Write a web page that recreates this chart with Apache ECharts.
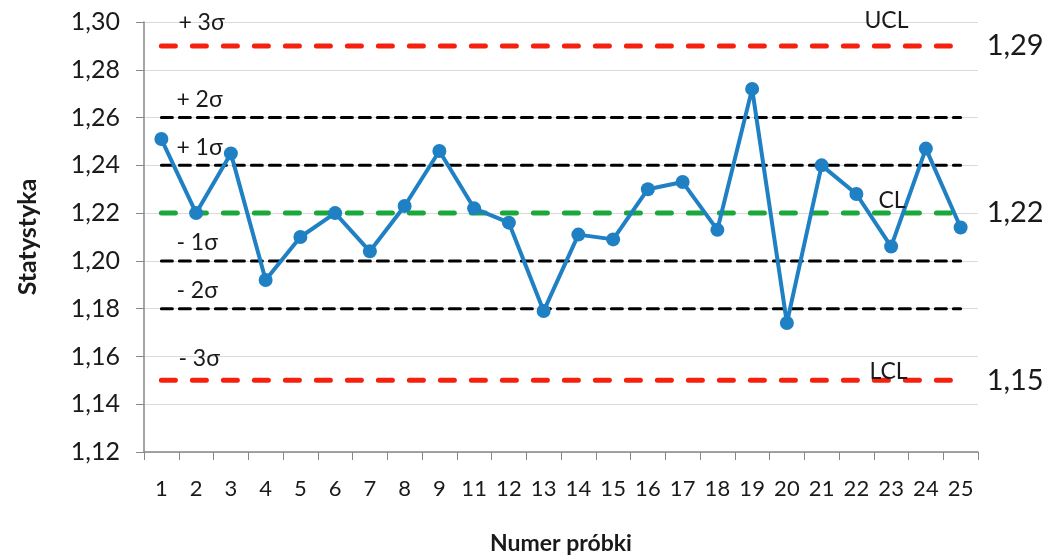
<!DOCTYPE html>
<html>
<head>
<meta charset="utf-8">
<script src="https://cdn.jsdelivr.net/npm/echarts@6/dist/echarts.min.js"></script>
<style>html,body{margin:0;padding:0;background:#fff}#c{width:1055px;height:558px}</style>
</head>
<body>
<div id="c"></div>
<script>
const categories = ['1','2','3','4','5','6','7','8','9','11','12','13','14','15','16','17','18','19','20','21','22','23','24','25'];
const values = [1.251,1.220,1.245,1.192,1.210,1.220,1.204,1.223,1.246,1.222,1.216,1.179,1.211,1.209,1.230,1.233,1.213,1.272,1.174,1.240,1.228,1.206,1.247,1.214];
const UCL = 1.29, CL = 1.22, LCL = 1.15;
const sigmaLevels = [1.26, 1.24, 1.20, 1.18];
const sigmaNames = ['+ 2σ','+ 1σ','- 1σ','- 2σ'];
const yTicks = {min:1.12, max:1.30, interval:0.02};

const FONT = 'Lato, "Open Sans", sans-serif';
const TXT = '#1a1a1a';
const fmt = v => v.toFixed(2).replace('.', ',');
const flat = v => categories.map(() => v);

function limitSeries(v, color, width, dash, showEnd) {
  return {
    type:'line', data: flat(v), symbol:'none', silent:true, z:1,
    lineStyle:{color, width, type:dash, cap:'round'},
    endLabel: showEnd ? {show:true, formatter:()=>fmt(v), fontSize:29, color:TXT, fontFamily:FONT, distance:26} : {show:false},
    animation:false
  };
}

const chart = echarts.init(document.getElementById('c'), null, {renderer:'canvas'});
const series = [
  limitSeries(UCL, '#f5200e', 5, [14,17], true),
  limitSeries(LCL, '#f5200e', 5, [14,17], true),
  limitSeries(CL, '#1aa83a', 5, [14,17], true),
  ...sigmaLevels.map(v => limitSeries(v, '#000', 3, [11,7], false)),
  {
    type:'line', data: values, symbol:'circle', symbolSize:14, z:5,
    itemStyle:{color:'#1f80c4'}, lineStyle:{color:'#1f80c4', width:4}, animation:false
  }
];

chart.setOption({
  backgroundColor:'#fff',
  animation:false,
  grid:{left:144, right:77, top:22, bottom:106, containLabel:false, outerBoundsMode:'none'},
  xAxis:{
    type:'category', data:categories, boundaryGap:true,
    name:'Numer próbki', nameLocation:'middle', nameGap:80,
    nameTextStyle:{fontSize:23, fontWeight:'bold', color:TXT, fontFamily:FONT},
    axisLine:{lineStyle:{color:'#888', width:1.5}},
    axisTick:{show:true, alignWithLabel:false, length:8, lineStyle:{color:'#888'}},
    axisLabel:{fontSize:22, color:TXT, margin:26, fontFamily:FONT, interval:0},
    splitLine:{show:false}
  },
  yAxis:{
    type:'value', min:yTicks.min, max:yTicks.max, interval:yTicks.interval,
    name:'Statystyka', nameLocation:'middle', nameGap:104, nameRotate:90,
    nameTextStyle:{fontSize:25, fontWeight:'bold', color:TXT, fontFamily:FONT},
    axisLine:{show:true, lineStyle:{color:'#888', width:1.5}},
    axisTick:{show:true, length:8, lineStyle:{color:'#888'}},
    axisLabel:{fontSize:25, color:TXT, margin:24, fontFamily:FONT, formatter:fmt},
    splitLine:{show:true, lineStyle:{color:'#dadada', width:1}}
  },
  series
});

// text annotations anchored to data positions
const texts = [];
function addText(catIdx, val, dx, dy, txt) {
  const p = chart.convertToPixel({gridIndex:0}, [catIdx, val]);
  texts.push({type:'text', x:p[0]+dx, y:p[1]+dy, z:10,
    style:{text:txt, fill:TXT, font:'23px ' + FONT, textAlign:'left', textVerticalAlign:'middle'}});
}
addText(0, UCL, 17, -23, '+ 3σ');
sigmaLevels.forEach((v,i) => {
  addText(0, v, 15, -18, sigmaNames[i]);
});
addText(0, LCL, 17, -22, '- 3σ');
const last = categories.length - 1;
addText(last-3, UCL, 8, -25, 'UCL');
addText(last-3, CL, 22, -13, 'CL');
addText(last-3, LCL, 13, -9, 'LCL');
chart.setOption({graphic:texts});
</script>
</body>
</html>
